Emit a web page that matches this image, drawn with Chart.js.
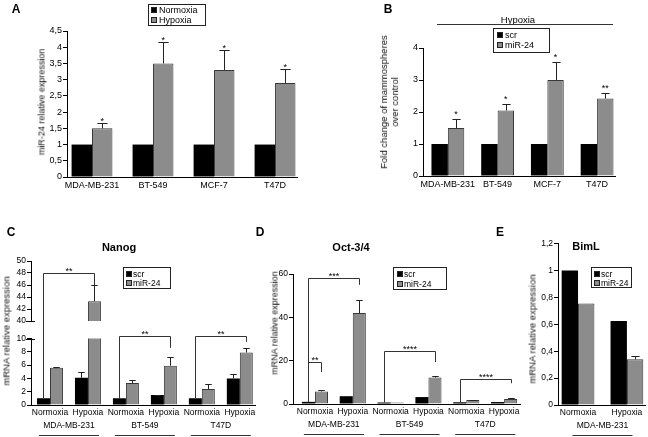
<!DOCTYPE html>
<html><head><meta charset="utf-8">
<script src="https://cdn.jsdelivr.net/npm/chart.js@4.4.1/dist/chart.umd.min.js"></script>
<style>
html,body{margin:0;padding:0;background:#fff;}
#root{position:relative;width:648px;height:437px;overflow:hidden;background:#fff;font-family:'Liberation Sans',Arial,sans-serif;color:#000;}
canvas{position:absolute;}
.c{position:absolute;white-space:nowrap;line-height:1.15;transform:translate(-50%,-50%);will-change:transform;}
.rot{position:absolute;white-space:nowrap;line-height:11px;text-align:center;writing-mode:vertical-rl;transform:translate(-50%,-50%) rotate(180deg);color:#111;}
.hl{position:absolute;height:1px;background:#333;}
</style></head>
<body><div id="root"></div>
<script>
// ---------------- DATA ----------------
// Panel A
const cellLinesA = ["MDA-MB-231", "BT-549", "MCF-7", "T47D"];
const normoxiaA = [1, 1, 1, 1];
const hypoxiaA = [1.5, 3.5, 3.3, 2.9];
const hypoxiaErrA = [0.15, 0.65, 0.62, 0.42];
const starsA = ["*", "*", "*", "*"];
const yTicksA = [0, 0.5, 1, 1.5, 2, 2.5, 3, 3.5, 4, 4.5];
// Panel B
const cellLinesB = ["MDA-MB-231", "BT-549", "MCF-7", "T47D"];
const scrB = [1, 1, 1, 1];
const mirB = [1.5, 2.05, 3.0, 2.42];
const mirErrB = [0.28, 0.2, 0.57, 0.18];
const starsB = ["*", "*", "*", "**"];
const yTicksB = [0, 1, 2, 3, 4];
// Panel C (Nanog)
const conditionsC = ["Normoxia", "Hypoxia", "Normoxia", "Hypoxia", "Normoxia", "Hypoxia"];
const cellLinesC = ["MDA-MB-231", "BT-549", "T47D"];
const nanogScr = [1.0, 4.1, 1.0, 1.5, 1.0, 4.0];
const nanogScrErr = [0, 0.8, 0, 0.05, 0, 0.6];
const nanogMir = [5.6, 43.3, 3.3, 5.9, 2.4, 7.9];
const nanogMirErr = [0.1, 2.7, 0.4, 1.3, 0.8, 0.6];
const yTicksCUpper = [40, 42, 44, 46, 48, 50];
const yTicksCLower = [0, 2, 4, 6, 8, 10];
const nanogSig = [
  {a: [0, 0], b: [1, 1], level: 48, drop: 46, text: "**"},
  {a: [2, 0], b: [3, 1], level: 10.45, drop: 8.6, text: "**"},
  {a: [4, 0], b: [5, 1], level: 10.45, drop: 9.5, text: "**"}
];
// Panel D (Oct-3/4)
const conditionsD = ["Normoxia", "Hypoxia", "Normoxia", "Hypoxia", "Normoxia", "Hypoxia"];
const cellLinesD = ["MDA-MB-231", "BT-549", "T47D"];
const octScr = [1.0, 3.6, 0.7, 3.2, 0.8, 0.9];
const octMir = [5.8, 42.0, 0.7, 12.2, 1.8, 2.3];
const octMirErr = [0.5, 5.8, 0, 0.6, 0.2, 0.3];
const yTicksD = [0, 20, 40, 60];
const octSig = [
  {a: [0, 0], b: [1, 1], level: 58, drop: 55, text: "***"},
  {a: [0, 0], b: [0, 1], level: 19.4, drop: 14.8, text: "**"},
  {a: [2, 0], b: [3, 1], level: 24.4, drop: 19.4, text: "****"},
  {a: [4, 0], b: [5, 1], level: 11.4, drop: 9.6, text: "****"}
];
// Panel E (BimL)
const conditionsE = ["Normoxia", "Hypoxia"];
const cellLinesE = ["MDA-MB-231"];
const bimScr = [1.0, 0.625];
const bimMir = [0.755, 0.34];
const bimMirErr = [0, 0.022];
const yTicksE = [0, 0.2, 0.4, 0.6, 0.8, 1, 1.2];

// ---------------- STYLE ----------------
const FONT = "'Liberation Sans', Arial, sans-serif";
const BLACK = "#000000", GRAY = "#8c8c8c", GRAY_BORDER = "#383838";
Chart.defaults.font.family = FONT;
Chart.defaults.color = "#000";
const root = document.getElementById("root");
const fmt = v => String(+Number(v).toFixed(2)).replace(".", ",");

// ---------------- PLUGINS ----------------
const errPlugin = {
  id: "errbars",
  afterDatasetsDraw(chart, args, o) {
    const ctx = chart.ctx, ys = chart.scales.y;
    ctx.save();
    ctx.strokeStyle = "#222"; ctx.lineWidth = 1; ctx.fillStyle = "#000";
    ctx.font = "9px " + FONT; ctx.textAlign = "center"; ctx.textBaseline = "alphabetic";
    chart.data.datasets.forEach((ds, di) => {
      if (!ds.err) return;
      const meta = chart.getDatasetMeta(di);
      meta.data.forEach((bar, i) => {
        const e = ds.err[i];
        const v = ds.data[i];
        const yTop = ys.getPixelForValue(v + (e || 0));
        if (e) {
          const x = Math.round(bar.x) + 0.5;
          const y0 = ys.getPixelForValue(v);
          const y1 = Math.round(yTop) + 0.5;
          const h = Math.max(2, bar.width * 0.25);
          ctx.beginPath();
          ctx.moveTo(x, y0); ctx.lineTo(x, y1);
          ctx.moveTo(x - h, y1); ctx.lineTo(x + h, y1);
          ctx.stroke();
        }
        if (ds.stars && ds.stars[i]) ctx.fillText(ds.stars[i], bar.x, yTop + (o.starDy || 0));
      });
    });
    ctx.restore();
  }
};
const bracketPlugin = {
  id: "brackets",
  afterDatasetsDraw(chart, args, o) {
    if (!o.items) return;
    const ctx = chart.ctx, ys = chart.scales.y;
    ctx.save();
    ctx.strokeStyle = "#333"; ctx.lineWidth = 1; ctx.fillStyle = "#000";
    ctx.font = "9px " + FONT; ctx.textAlign = "center"; ctx.textBaseline = "alphabetic";
    o.items.forEach(b => {
      const ba = chart.getDatasetMeta(b.a[1]).data[b.a[0]];
      const bb = chart.getDatasetMeta(b.b[1]).data[b.b[0]];
      const xa = Math.round(ba.x) + 0.5, xb = Math.round(bb.x) + 0.5;
      const yl = Math.round(ys.getPixelForValue(b.level)) + 0.5;
      const ya = ys.getPixelForValue(chart.data.datasets[b.a[1]].data[b.a[0]]);
      const yd = ys.getPixelForValue(b.drop);
      ctx.beginPath();
      ctx.moveTo(xa, ya); ctx.lineTo(xa, yl); ctx.lineTo(xb, yl); ctx.lineTo(xb, yd);
      ctx.stroke();
      if (b.level >= ys.min - 1 && b.level <= ys.max + 1) ctx.fillText(b.text, (xa + xb) / 2, yl + (o.textDy || 0));
    });
    ctx.restore();
  }
};
const groupPlugin = {
  id: "groups",
  afterDraw(chart, args, o) {
    if (!o.labels) return;
    const ctx = chart.ctx, xs = chart.scales.x, area = chart.chartArea;
    ctx.save();
    ctx.fillStyle = "#000"; ctx.strokeStyle = "#333"; ctx.lineWidth = 1;
    ctx.font = (o.size || 8.5) + "px " + FONT; ctx.textAlign = "center"; ctx.textBaseline = "middle";
    o.labels.forEach((g, i) => {
      const cx = (xs.getPixelForValue(2 * i) + xs.getPixelForValue(2 * i + 1)) / 2;
      ctx.fillText(g, cx, area.bottom + o.textDy);
      const ly = Math.round(area.bottom + o.lineDy) + 0.5;
      ctx.beginPath(); ctx.moveTo(cx - o.half, ly); ctx.lineTo(cx + o.half, ly); ctx.stroke();
    });
    ctx.restore();
  }
};
const breakPlugin = {
  id: "axisbreak",
  afterDraw(chart, args, o) {
    if (!o.at) return;
    const ctx = chart.ctx, a = chart.chartArea;
    const y = Math.round(o.at === "bottom" ? a.bottom : a.top) + 0.5;
    ctx.save(); ctx.strokeStyle = "#000"; ctx.lineWidth = 1;
    ctx.beginPath(); ctx.moveTo(a.left - 5, y); ctx.lineTo(a.left + 4, y); ctx.stroke();
    ctx.restore();
  }
};
const legendPlugin = {
  id: "boxlegend",
  afterDraw(chart, args, o) {
    if (!o.box) return;
    const ctx = chart.ctx;
    const [x, y, w, h] = o.box;
    ctx.save();
    ctx.lineWidth = 1; ctx.strokeStyle = "#222";
    ctx.strokeRect(Math.round(x) + 0.5, Math.round(y) + 0.5, w - 1, h - 1);
    ctx.font = o.size + "px " + FONT; ctx.textBaseline = "middle"; ctx.textAlign = "left";
    chart.data.datasets.forEach((ds, i) => {
      const cy = Math.round(y + o.rows[i]);
      const sx = Math.round(x + o.sq) + 0.5;
      ctx.fillStyle = ds.backgroundColor; ctx.fillRect(sx, cy - 2.5, 5, 5);
      ctx.strokeStyle = "#222"; ctx.strokeRect(sx, cy - 2.5, 5, 5);
      ctx.fillStyle = "#000"; ctx.fillText(ds.label, x + o.tx, cy + 0.5);
    });
    ctx.restore();
  }
};

// ---------------- BUILDER ----------------
function buildChart(o) {
  const [rx, ry, rw, rh] = o.rect;
  const [al, at, ar, ab] = o.area;
  const c = document.createElement("canvas");
  c.width = rw; c.height = rh;
  Object.assign(c.style, {left: rx + "px", top: ry + "px", width: rw + "px", height: rh + "px"});
  root.appendChild(c);
  const yt = o.yTicks;
  const leg = o.legend ? {box: [o.legend.box[0] - rx, o.legend.box[1] - ry, o.legend.box[2], o.legend.box[3]],
    rows: o.legend.rows, size: o.legend.size, sq: o.legend.sq, tx: o.legend.tx} : {};
  return new Chart(c, {
    type: "bar",
    data: {
      labels: o.labels.map((_, i) => i),
      datasets: o.datasets.map(d => ({
        label: d.label, data: d.data, err: d.err, stars: d.stars,
        backgroundColor: d.color, borderColor: d.border || d.color, borderWidth: d.border ? 1 : 0,
        categoryPercentage: o.catPct, barPercentage: 1, clip: 0
      }))
    },
    options: {
      responsive: false, maintainAspectRatio: false, animation: false, devicePixelRatio: 1,
      layout: {padding: {left: 0, top: at - ry, right: rx + rw - ar, bottom: o.showX ? 0 : ry + rh - ab}},
      plugins: {
        legend: {display: false}, tooltip: {enabled: false},
        errbars: {starDy: o.starDy || 0},
        brackets: {items: o.brackets, textDy: 0},
        groups: o.groups || {},
        axisbreak: {at: o.breakAt},
        boxlegend: leg
      },
      scales: {
        x: {
          type: "linear", display: o.showX, offset: false, min: o.xRange[0], max: o.xRange[1],
          afterBuildTicks: s => { s.ticks = o.labels.map((_, i) => ({value: i})); },
          ticks: {autoSkip: false, maxRotation: 0, minRotation: 0, padding: o.xPad, includeBounds: false,
            font: {size: o.xFont}, color: "#000", callback: v => o.labels[v] ?? ""},
          grid: {display: false, drawTicks: false},
          border: {display: true, color: "#000", width: 1},
          afterFit: s => { s.height = ry + rh - ab; }
        },
        y: {
          type: "linear", min: yt[0], max: yt[yt.length - 1],
          afterBuildTicks: s => { s.ticks = yt.map(v => ({value: v})); },
          ticks: {autoSkip: false, padding: 1, font: {size: o.yFont}, color: "#000", callback: v => fmt(v)},
          grid: {display: true, drawOnChartArea: false, drawTicks: true, tickLength: 4, color: "#000"},
          border: {display: true, color: "#000", width: 1},
          afterFit: s => { s.width = al - rx; }
        }
      }
    },
    plugins: [errPlugin, bracketPlugin, groupPlugin, breakPlugin, legendPlugin]
  });
}

// ---------------- CHARTS ----------------
// A
buildChart({
  rect: [0, 0, 322, 200], area: [67, 31, 297, 177],
  labels: cellLinesA, xRange: [-0.41, 3.36], catPct: 0.67, xFont: 9, yFont: 9, xPad: 3, showX: true,
  yTicks: yTicksA, starDy: 1,
  legend: {box: [148, 4, 58, 22], rows: [5.5, 16], size: 9, sq: 3, tx: 11},
  datasets: [
    {label: "Normoxia", data: normoxiaA, color: BLACK},
    {label: "Hypoxia", data: hypoxiaA, err: hypoxiaErrA, stars: starsA, color: GRAY, border: GRAY_BORDER}
  ]
});
// B
buildChart({
  rect: [330, 0, 318, 200], area: [423, 48, 615, 176],
  labels: cellLinesB, xRange: [-0.5, 3.36], catPct: 0.66, xFont: 9, yFont: 9, xPad: 3, showX: true,
  yTicks: yTicksB, starDy: -2,
  legend: {box: [493, 28, 57, 25], rows: [6.5, 17], size: 9, sq: 4, tx: 12},
  datasets: [
    {label: "scr", data: scrB, color: BLACK},
    {label: "miR-24", data: mirB, err: mirErrB, stars: starsB, color: GRAY, border: GRAY_BORDER}
  ]
});
// C upper (broken axis, 40-50)
const cDatasets = [
  {label: "scr", data: nanogScr, err: nanogScrErr, color: BLACK},
  {label: "miR-24", data: nanogMir, err: nanogMirErr, color: GRAY, border: GRAY_BORDER}
];
buildChart({
  rect: [0, 250, 262, 83], area: [31, 261, 255, 327],
  labels: conditionsC, xRange: [-0.5, 5.4], catPct: 0.684, xFont: 8.5, yFont: 8.5, xPad: 3, showX: false,
  yTicks: yTicksCUpper, brackets: nanogSig, breakAt: "bottom",
  legend: {box: [123, 267, 48, 22], rows: [7, 16], size: 8.5, sq: 3, tx: 10},
  datasets: cDatasets
});
// C lower (0-10)
buildChart({
  rect: [0, 316, 262, 121], area: [31, 338.5, 255, 405],
  labels: conditionsC, xRange: [-0.5, 5.4], catPct: 0.684, xFont: 8.5, yFont: 8.5, xPad: 3, showX: true,
  yTicks: yTicksCLower, brackets: nanogSig, breakAt: "top",
  groups: {labels: cellLinesC, textDy: 20.5, lineDy: 29.5, half: 30},
  datasets: cDatasets
});
// D
buildChart({
  rect: [262, 250, 265, 187], area: [293, 274, 520, 404],
  labels: conditionsD, xRange: [-0.58, 5.42], catPct: 0.69, xFont: 8.5, yFont: 8.5, xPad: 3, showX: true,
  yTicks: yTicksD, brackets: octSig,
  legend: {box: [393, 267, 54, 23], rows: [7, 16.5], size: 8.5, sq: 4, tx: 11},
  groups: {labels: cellLinesD, textDy: 20.5, lineDy: 30, half: 30},
  datasets: [
    {label: "scr", data: octScr, color: BLACK},
    {label: "miR-24", data: octMir, err: octMirErr, color: GRAY, border: GRAY_BORDER}
  ]
});
// E
buildChart({
  rect: [527, 230, 121, 207], area: [558, 243.5, 645, 405],
  labels: conditionsE, xRange: [-0.41, 1.37], catPct: 0.67, xFont: 8.5, yFont: 8.5, xPad: 3, showX: true,
  yTicks: yTicksE,
  legend: {box: [591, 267, 41, 21], rows: [6.5, 15.5], size: 8.5, sq: 3, tx: 10},
  groups: {labels: cellLinesE, textDy: 21, lineDy: 29.5, half: 30},
  datasets: [
    {label: "scr", data: bimScr, color: BLACK},
    {label: "miR-24", data: bimMir, err: bimMirErr, color: GRAY, border: GRAY_BORDER}
  ]
});

// ---------------- HTML TEXT ----------------
function addText(cls, txt, x, y, style) {
  const d = document.createElement("div");
  d.className = cls; d.innerHTML = txt;
  d.style.left = x + "px"; d.style.top = y + "px";
  Object.assign(d.style, style || {});
  root.appendChild(d);
}
// panel letters
[["A", 16, 10], ["B", 388, 10], ["C", 11, 233], ["D", 259.5, 233], ["E", 499.5, 233]].forEach(p =>
  addText("c", p[0], p[1], p[2], {fontSize: "12px", fontWeight: "bold"}));
// panel titles
addText("c", "Nanog", 119, 246.5, {fontSize: "11px", fontWeight: "bold"});
addText("c", "Oct-3/4", 350.5, 246.5, {fontSize: "11px", fontWeight: "bold"});
addText("c", "BimL", 585.5, 246, {fontSize: "11px", fontWeight: "bold"});
// B header
addText("c", "Hypoxia", 517.5, 20, {fontSize: "9.5px"});
const hl = document.createElement("div"); hl.className = "hl";
Object.assign(hl.style, {left: "437px", top: "24px", width: "176px"}); root.appendChild(hl);
// y axis titles
addText("rot", "miR-24 relative expression", 42, 102, {fontSize: "9px"});
addText("rot", "Fold change of mammospheres<br>over control", 388.5, 102, {fontSize: "9.5px"});
addText("rot", "mRNA relative expression", 6, 331, {fontSize: "9.5px"});
addText("rot", "mRNA relative expression", 275, 323, {fontSize: "9px"});
addText("rot", "mRNA relative expression", 532, 329, {fontSize: "9.5px"});
</script>
</body></html>
